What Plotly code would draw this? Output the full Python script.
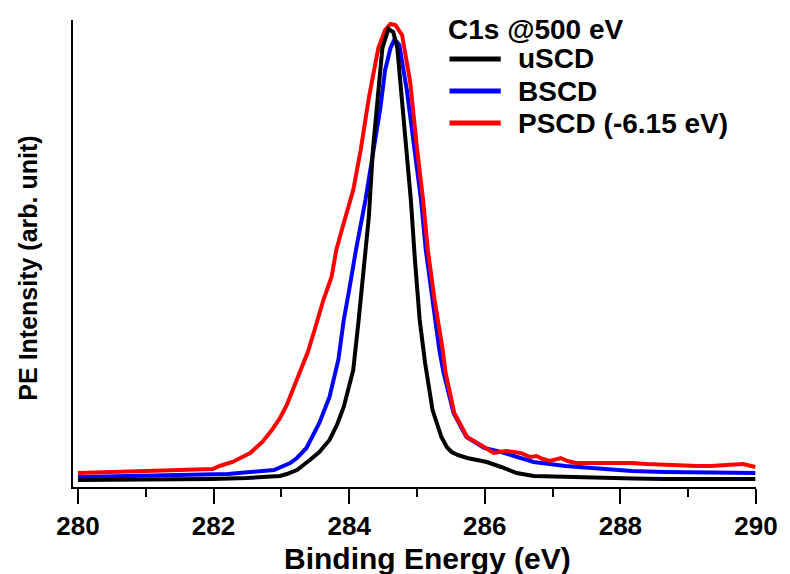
import plotly.graph_objects as go

# ---------------- data ----------------
# uSCD (black)
usc_e = [280.00, 280.50, 281.00, 281.50, 281.99, 282.50, 282.98, 283.08, 283.23, 283.42,
         283.56, 283.71, 283.82, 283.92, 284.06, 284.14, 284.22, 284.29, 284.35, 284.42,
         284.49, 284.58, 284.65, 284.71, 284.78, 284.85, 284.91, 284.97, 285.04, 285.12,
         285.23, 285.36, 285.44, 285.51, 285.60, 285.74, 286.03, 286.24, 286.47, 286.72,
         287.19, 287.69, 288.20, 288.65, 289.20, 289.60, 289.99]
usc_i = [7, 7, 7, 7.5, 8, 9, 11, 13, 17, 27,
         35, 47, 62, 80, 117, 167, 220, 270, 337, 389,
         439, 458, 455, 439, 389, 335, 287, 227, 167, 124,
         77, 50, 40, 35, 32, 29, 25, 20, 14, 11,
         10, 9, 8.5, 8, 8, 8.5, 8]

# BSCD (blue)
bscd_e = [280.00, 281.00, 281.99, 282.21, 282.89, 283.13, 283.23, 283.37, 283.56, 283.71,
          283.84, 283.92, 284.00, 284.10, 284.24, 284.36, 284.46, 284.53, 284.61, 284.67,
          284.74, 284.85, 284.97, 285.06, 285.13, 285.23, 285.33, 285.39, 285.54, 285.73,
          285.99, 286.24, 286.47, 286.72, 287.19, 287.69, 288.17, 288.65, 289.14, 289.62,
          289.99]
bscd_i = [10, 11, 12, 13, 17, 24, 29, 39, 64, 90,
          127, 167, 197, 237, 287, 335, 379, 417, 439, 448,
          442, 397, 337, 287, 237, 187, 137, 115, 74, 50,
          39, 35, 30, 25, 21, 18, 16, 15, 15, 14,
          14]

# PSCD (-6.15 eV) (red)
pscd_e = [280.00, 280.47, 280.76, 281.00, 281.26, 281.48, 281.77, 281.99, 282.09, 282.28,
          282.54, 282.72, 282.86, 282.98, 283.08, 283.18, 283.28, 283.39, 283.49, 283.62,
          283.74, 283.81, 283.92, 284.06, 284.17, 284.29, 284.43, 284.53, 284.61, 284.68,
          284.78, 284.90, 285.00, 285.09, 285.16, 285.26, 285.38, 285.42, 285.55, 285.74,
          285.99, 286.13, 286.31, 286.42, 286.53, 286.67, 286.76, 286.86, 286.96, 287.12,
          287.22, 287.34, 287.51, 287.69, 287.88, 288.17, 288.39, 288.65, 288.90, 289.14,
          289.33, 289.62, 289.81, 289.99]
pscd_i = [14, 15, 15, 16, 16, 17, 17, 18, 21, 25,
          34, 45, 57, 69, 82, 99, 117, 135, 157, 187,
          210, 237, 264, 297, 337, 389, 439, 457, 463, 462,
          452, 405, 339, 287, 237, 187, 137, 115, 74, 50,
          40, 34, 36, 35, 34, 30, 31, 28, 26, 29,
          26, 24, 24, 24, 25, 24, 23, 22, 22, 21,
          21, 22, 23, 20]

series_names = ["uSCD", "BSCD", "PSCD (-6.15 eV)"]
legend_title = "C1s @500 eV"
x_ticks = [280, 282, 284, 286, 288, 290]

# ---------------- figure ----------------
FONT = "Liberation Sans"
BLACK, BLUE, RED = "#000000", "#0000ff", "#ff0000"

fig = go.Figure()
fig.add_trace(go.Scatter(x=bscd_e, y=bscd_i, mode="lines", name=series_names[1],
                         line=dict(color=BLUE, width=4), showlegend=False))
fig.add_trace(go.Scatter(x=pscd_e, y=pscd_i, mode="lines", name=series_names[2],
                         line=dict(color=RED, width=4), showlegend=False))
fig.add_trace(go.Scatter(x=usc_e, y=usc_i, mode="lines", name=series_names[0],
                         line=dict(color=BLACK, width=4), showlegend=False))

W, H = 790, 574
L, R, T, B = 73, 24, 20, 87
pw, ph = W - L - R, H - T - B


def px(xp):
    return (xp - L) / pw


def py(yp):
    return (H - B - yp) / ph


fig.update_layout(
    width=W, height=H,
    margin=dict(l=L, r=R, t=T, b=B),
    paper_bgcolor="white", plot_bgcolor="white",
    font=dict(family=FONT, color="black"),
    showlegend=False,
)

fig.update_xaxes(
    range=[279.927, 290.0],
    tickmode="array", tickvals=x_ticks, ticktext=[str(t) for t in x_ticks],
    ticks="outside", ticklen=15, tickwidth=2, tickcolor="black",
    minor=dict(dtick=1, tick0=280, ticks="outside", ticklen=8, tickwidth=2, tickcolor="black"),
    showline=True, linecolor="black", linewidth=2,
    showgrid=False, zeroline=False, ticklabeloverflow="allow",
    tickfont=dict(family=FONT, size=26, color="black", weight="bold"),
)
fig.update_yaxes(
    range=[0, ph],
    showline=True, linecolor="black", linewidth=2,
    showticklabels=False, ticks="",
    showgrid=False, zeroline=False,
)

annotations = [
    dict(text="Binding Energy (eV)", x=px(433), y=py(558), xref="paper", yref="paper",
         xanchor="center", yanchor="middle", showarrow=False,
         font=dict(family=FONT, size=30, color="black", weight="bold")),
    dict(text="PE Intensity (arb. unit)", x=px(27), y=py(268), xref="paper", yref="paper",
         xanchor="center", yanchor="middle", showarrow=False, textangle=-90,
         font=dict(family=FONT, size=25, color="black", weight="bold")),
    dict(text=legend_title, x=px(451), y=py(29), xref="paper", yref="paper",
         xanchor="left", yanchor="middle", showarrow=False,
         font=dict(family=FONT, size=28, color="black", weight="bold")),
]
shapes = []
legend_rows = [(series_names[0], BLACK, 59), (series_names[1], BLUE, 91), (series_names[2], RED, 123)]
for name, col, yy in legend_rows:
    annotations.append(dict(text=name, x=px(522), y=py(yy), xref="paper", yref="paper",
                            xanchor="left", yanchor="middle", showarrow=False,
                            font=dict(family=FONT, size=28, color="black", weight="bold")))
    shapes.append(dict(type="line", xref="paper", yref="paper",
                       x0=px(455), x1=px(507), y0=py(yy), y1=py(yy),
                       line=dict(color=col, width=5)))
fig.update_layout(annotations=annotations, shapes=shapes)

fig.write_html("out.html",
               config={"displayModeBar": False},
               post_script="document.body.style.margin='0';document.body.style.overflow='hidden';")
